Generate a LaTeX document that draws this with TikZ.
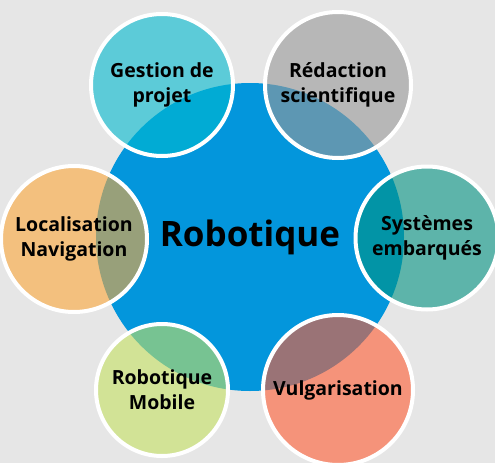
\documentclass[tikz,border=0pt]{standalone}
\usepackage{fontspec}
\setmainfont{Open Sans}
\definecolor{bg}{RGB}{230,230,230}
\definecolor{core}{RGB}{3,150,220}
\definecolor{cGestion}{RGB}{0,185,208}
\definecolor{cRedac}{RGB}{153,153,153}
\definecolor{cSys}{RGB}{2,148,130}
\definecolor{cLoc}{RGB}{252,167,57}
\definecolor{cMob}{RGB}{197,225,98}
\definecolor{cVulg}{RGB}{255,92,50}
\begin{document}
\begin{tikzpicture}[x=1pt,y=-1pt,
  sat/.style={circle,draw=white,line width=4pt,fill=#1,fill opacity=0.6,text opacity=1,
    align=center,inner sep=0pt,font=\bfseries\fontsize{19.5}{25}\selectfont},
  hub/.style={circle,fill=core,draw=none,inner sep=0pt,minimum size=308pt,
    font=\bfseries\fontsize{35}{40}\selectfont}]
\fill[bg] (0,0) rectangle (495,463);
\useasboundingbox (0,0) rectangle (495,463);
\node[hub] (core) at (250,237) {Robotique};
\node[sat=cGestion,minimum size=142pt] (gest) at (162,85) {Gestion de\\projet};
\node[sat=cRedac,minimum size=146pt] (redac) at (338,85) {Rédaction\\scientifique};
\node[sat=cSys,minimum size=143pt] (sys) at (427,238) {Systèmes\\embarqués};
\node[sat=cLoc,minimum size=146pt] (loc) at (74,239) {Localisation\\Navigation};
\node[sat=cMob,minimum size=132pt] (mob) at (162,390) {Robotique\\Mobile};
\node[sat=cVulg,minimum size=150pt] (vulg) at (338,390) {Vulgarisation};
\end{tikzpicture}
\end{document}
